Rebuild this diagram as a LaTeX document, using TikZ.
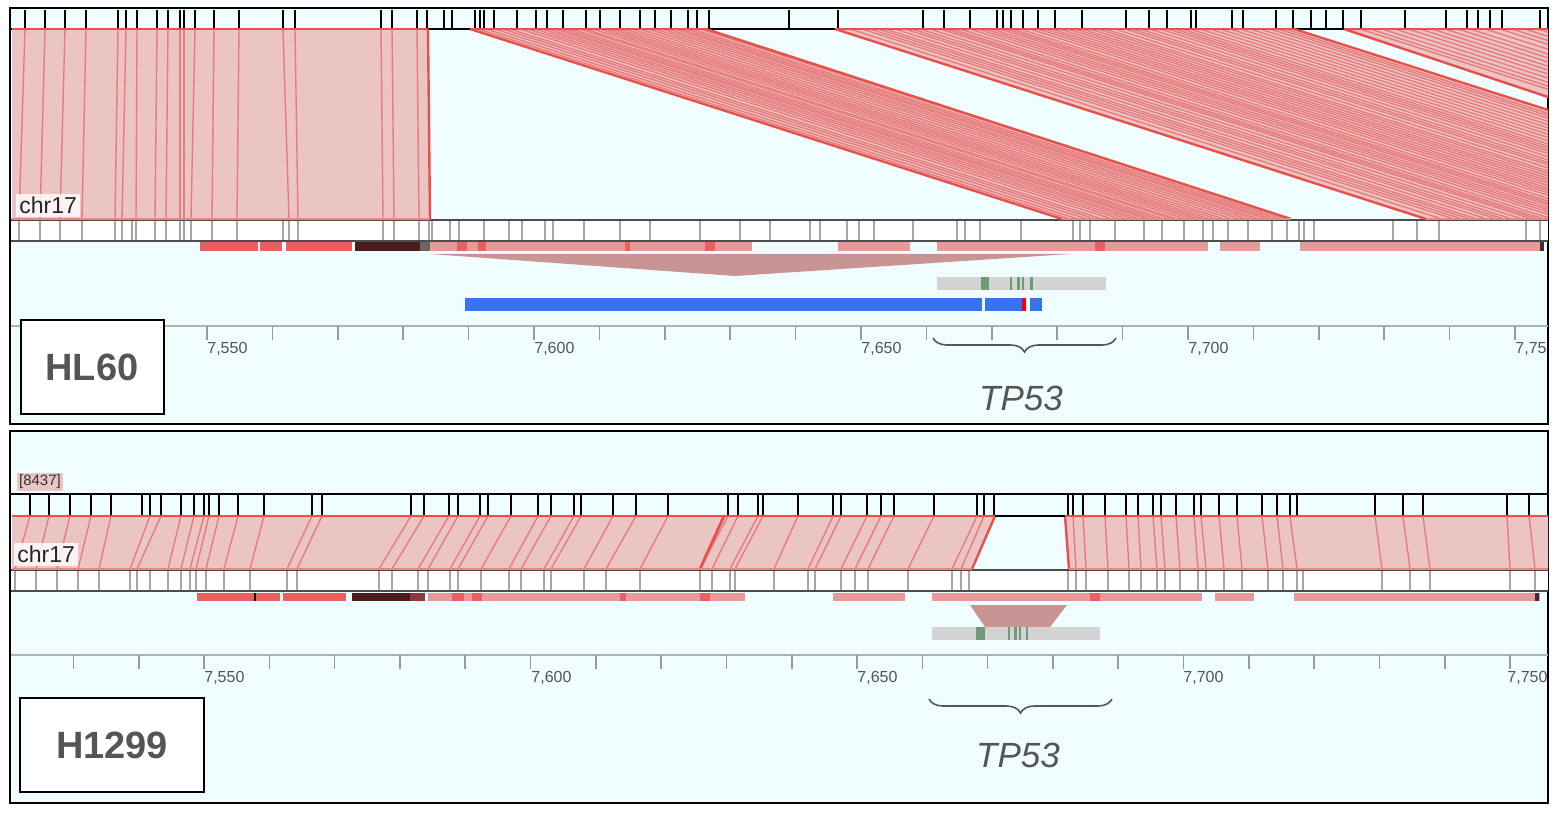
\documentclass[tikz,border=0pt]{standalone}
\usepackage{fontspec}
\setmainfont{Liberation Sans}
\usetikzlibrary{decorations.pathreplacing}
\definecolor{bgc}{HTML}{F0FDFE}
\definecolor{bandc}{HTML}{EBC4C4}
\definecolor{stripe}{HTML}{E87070}
\definecolor{redl}{HTML}{E8504A}
\definecolor{featl}{HTML}{E89A9A}
\definecolor{featd}{HTML}{E86060}
\definecolor{featk}{HTML}{4A1C1C}
\definecolor{brn}{HTML}{C99494}
\definecolor{grayb}{HTML}{D3D3D3}
\definecolor{grn}{HTML}{6E9A78}
\definecolor{blu}{HTML}{3573F0}
\definecolor{txt}{HTML}{555555}
\tikzset{
 panel/.style={draw=black,line width=1pt,fill=bgc},
 lab/.style={draw=black,line width=1pt,fill=white,minimum width=71.5pt,minimum height=47pt,font=\fontsize{19}{20}\selectfont\bfseries,text=txt},
 axl/.style={font=\fontsize{8}{9}\selectfont,text=txt,anchor=west,inner sep=0pt},
 gene/.style={font=\fontsize{17.5}{18}\selectfont\itshape,text=txt},
 brc/.style={decorate,decoration={brace,mirror,amplitude=7pt},draw=txt,line width=0.8pt},
 tk/.style={draw=black,line width=0.8pt},
 gtk/.style={draw=gray!70,line width=0.6pt},
 stl/.style={draw=stripe,line width=0.7pt,opacity=0.85},
}
\begin{document}
\begin{tikzpicture}[x=0.5pt,y=-0.5pt]
\useasboundingbox (0,0) rectangle (1564,818);
% ================= PANEL 1 =================
\node[panel,minimum width=769pt,minimum height=208pt,inner sep=0pt] (p1) at (779,216) {};
\foreach \x in {25,45,65,86,118,126,137,157,168,180,184,195,214,239,283,295,381,392,417,427,444,452,475,480,484,494,517,536,547,563,586,600,620,640,655,671,688,697,709,789,838,923,944,970,997,1003,1011,1023,1038,1055,1082,1126,1149,1167,1191,1196,1232,1243,1276,1293,1311,1326,1343,1361,1405,1446,1467,1478,1490,1502,1540}
  \draw[tk] (\x,10) -- (\x,29);
\draw[black,line width=1pt] (11,29) -- (1548,29);
\fill[white] (11,220) rectangle (1548,240);
\foreach \x in {19,40,60,82,115,122,132,136,155,166,180,184,191,212,237,283,289,298,383,394,419,429,432,450,459,484,509,522,545,553,584,620,650,700,740,770,810,820,847,859,874,913,957,965,980,1021,1073,1080,1090,1115,1144,1162,1184,1203,1213,1228,1248,1272,1287,1299,1304,1314,1393,1417,1439,1526,1540}
  \draw[gtk] (\x,220) -- (\x,240);
\draw[black!70,line width=1pt] (11,220) -- (1548,220);
\draw[black!70,line width=1pt] (11,241) -- (1548,241);
\fill[bandc] (12,29) -- (428,29) -- (430,219) -- (12,219) -- cycle;
\foreach \x/\y in {25/19,45/40,65/60,86/82,118/115,126/122,137/136,157/155,168/166,180/180,184/184,195/191,214/212,239/237,283/289,295/298,381/383,392/394,417/419}
  \draw[stl] (\x,29) -- (\y,219);
\draw[redl,line width=1.2pt] (428,29) -- (430,219);
\fill[bandc] (470,29) -- (706,29) -- (1291,219) -- (1062,219) -- cycle;
\fill[bandc] (835,29) -- (1294,29) -- (1548,110) -- (1548,219) -- (1426,219) -- cycle;
\fill[bandc] (1344,29) -- (1548,29) -- (1548,97) -- cycle;
\begin{scope}
\clip (470,29) -- (706,29) -- (1291,219) -- (1062,219) -- cycle;
\foreach \x in {478,486,495,503,510,520,528,535,542,548,555,560,566,572,580,585,593,600,606,612,618,625,632,640,648,655,662,668,675,680,686,692,700}
  \draw[stl] (\x,29) -- ++(592,190);
\end{scope}
\begin{scope}
\clip (835,29) -- (1294,29) -- (1548,110) -- (1548,219) -- (1426,219) -- cycle;
\foreach \x in {850,862,870,878,885,895,905,912,920,930,940,946,952,960,970,978,985,992,1000,1006,1012,1020,1030,1038,1045,1052,1060,1068,1075,1082,1090,1098,1105,1115,1125,1132,1140,1150,1160,1168,1175,1182,1190,1200,1210,1220,1230,1240,1250,1260,1270,1278,1285}
  \draw[stl] (\x,29) -- ++(592,190);
\end{scope}
\begin{scope}
\clip (1344,29) -- (1548,29) -- (1548,97) -- cycle;
\foreach \x in {1360,1370,1382,1395,1408,1420,1432,1445,1458,1470,1485,1500,1512,1525,1538}
  \draw[stl] (\x,29) -- ++(592,190);
\end{scope}
\draw[redl,line width=1.2pt] (470,29) -- (1062,219) (706,29) -- (1291,219);
\draw[redl,line width=1.2pt] (835,29) -- (1426,219) (1294,29) -- (1548,110);
\draw[redl,line width=1.2pt] (1344,29) -- (1548,97);
\draw[redl,line width=1.2pt] (12,29) -- (428,29) (470,29) -- (706,29) (835,29) -- (1294,29) (1344,29) -- (1548,29);
\draw[redl!70,line width=1pt] (12,219) -- (430,219) (1062,219) -- (1291,219) (1426,219) -- (1548,219);
\node[fill=white,fill opacity=0.8,text opacity=1,inner sep=1.5pt,anchor=south west,font=\fontsize{11.5}{12}\selectfont,text=black!85] (c1) at (16,217) {chr17};
\foreach \a/\b/\c in {200/258/featd,260/282/featd,286/352/featd,355/420/featk,420/430/black!60,430/752/featl,457/467/featd,478/486/featd,625/630/featd,705/715/featd,838/910/featl,937/1208/featl,1095/1105/featd,1220/1260/featl,1300/1540/featl,1540/1544/black!80}
  \fill[\c] (\a,242) rectangle (\b,251);
\fill[brn] (430,254) -- (1070,254) -- (735,276) -- cycle;
\fill[grayb] (937,277) rectangle (1106,290);
\foreach \x/\w in {981/7,987/2,1010/2,1017/3,1022/2,1030/3}
  \fill[grn] (\x,277) rectangle (\x+\w,290);
\fill[blu] (465,298) rectangle (982,311);
\fill[blu] (985,298) rectangle (1022,311);
\fill[red] (1022,298) rectangle (1026,311);
\fill[blu] (1030,298) rectangle (1042,311);
\draw[gray!60,line width=1.2pt] (11,326) -- (1548,326);
\foreach \i in {-2,...,20}
  \draw[gray!80,line width=0.8pt] (207+65.4*\i,326) -- (207+65.4*\i,340);
\node[axl] (a1) at (207,349) {7,550};
\node[axl] (a2) at (534,349) {7,600};
\node[axl] (a3) at (861,349) {7,650};
\node[axl] (a4) at (1188,349) {7,700};
\node[axl] (a5) at (1515,349) {7,75};
\node[lab] (hl60) at (92,367) {HL60};
\coordinate (b1s) at (933,338);
\coordinate (b1e) at (1116,338);
\draw[brc] (b1s) -- (b1e);
\node[gene] (g1) at (1021,398) {TP53};
% ================= PANEL 2 =================
\node[panel,minimum width=769pt,minimum height=186pt,inner sep=0pt] (p2) at (779,617) {};
\node[fill=bandc,inner sep=1pt,font=\fontsize{7.5}{8}\selectfont,text=black!80] (n8437) at (40,482) {[8437]};
\foreach \x in {30,49,70,91,111,142,150,161,181,194,204,209,219,238,264,312,322,411,424,449,458,480,488,511,538,551,574,581,613,636,668,728,738,758,763,798,833,841,867,881,894,934,977,984,994,1068,1073,1083,1105,1126,1138,1153,1161,1176,1194,1201,1219,1237,1262,1277,1290,1297,1375,1403,1423,1507,1529}
  \draw[tk] (\x,494) -- (\x,516);
\draw[black,line width=1pt] (11,494) -- (1548,494);
\fill[white] (11,570) rectangle (1548,590);
\foreach \x in {15,36,57,78,99,130,137,150,168,181,190,196,206,224,250,287,297,379,392,418,428,450,458,481,509,521,544,551,584,606,640,700,712,730,735,774,808,815,841,855,868,908,952,961,969,1068,1076,1086,1108,1129,1141,1157,1165,1180,1198,1206,1224,1242,1268,1283,1297,1303,1382,1410,1430,1510,1535}
  \draw[gtk] (\x,570) -- (\x,590);
\draw[black!70,line width=1pt] (11,570) -- (1548,570);
\draw[black!70,line width=1pt] (11,591) -- (1548,591);
\fill[bandc] (12,516) -- (995,516) -- (972,569) -- (12,569) -- cycle;
\fill[bandc] (1065,516) -- (1548,516) -- (1548,569) -- (1069,569) -- cycle;
\foreach \x/\y in {30/15,49/36,70/57,91/78,111/99,150/130,161/137,181/168,194/181,204/190,209/196,219/206,238/224,264/250,312/287,322/297,411/379,424/392,449/418,458/428,480/450,488/458,511/481,538/509,551/521,574/544,581/551,613/584,636/606,668/640,728/700,738/712,758/730,763/735,798/774,833/808,841/815,867/841,881/855,894/868,934/908,977/952,984/961}
  \draw[stl] (\x,516) -- (\y,569);
\draw[redl,line width=1.4pt] (724,516) -- (700,569);
\foreach \x/\y in {1073/1076,1083/1086,1105/1108,1126/1129,1138/1141,1153/1157,1161/1165,1176/1180,1194/1198,1201/1206,1219/1224,1237/1242,1262/1268,1277/1283,1290/1297,1375/1382,1403/1410,1423/1430,1507/1510,1529/1535}
  \draw[stl] (\x,516) -- (\y,569);
\draw[redl,line width=1.2pt] (995,516) -- (972,569) (1065,516) -- (1069,569);
\draw[redl,line width=1.2pt] (12,516) -- (995,516) (1065,516) -- (1548,516);
\draw[redl!70,line width=1pt] (12,569) -- (972,569) (1069,569) -- (1548,569);
\draw[black,line width=1.2pt] (995,516) -- (1065,516);
\node[fill=white,fill opacity=0.8,text opacity=1,inner sep=1.5pt,anchor=south west,font=\fontsize{11.5}{12}\selectfont,text=black!85] (c2) at (14,566) {chr17};
\foreach \a/\b/\c in {197/280/featd,254/256/black,283/346/featd,352/425/featk,410/425/featd!60!black,428/745/featl,452/464/featd,472/482/featd,620/626/featd,700/710/featd,833/905/featl,932/1202/featl,1090/1100/featd,1215/1254/featl,1294/1540/featl,1535/1539/black!80}
  \fill[\c] (\a,593) rectangle (\b,601);
\fill[brn] (970,605) -- (1067,605) -- (1050,627) -- (985,627) -- cycle;
\fill[grayb] (932,627) rectangle (1100,640);
\foreach \x/\w in {976/7,983/2,1008/2,1014/3,1019/2,1026/2}
  \fill[grn] (\x,627) rectangle (\x+\w,640);
\draw[gray!60,line width=1.2pt] (11,655) -- (1548,655);
\foreach \i in {-2,...,20}
  \draw[gray!80,line width=0.8pt] (204+65.3*\i,655) -- (204+65.3*\i,669);
\node[axl] (d1) at (204,678) {7,550};
\node[axl] (d2) at (531,678) {7,600};
\node[axl] (d3) at (857,678) {7,650};
\node[axl] (d4) at (1183,678) {7,700};
\node[axl] (d5) at (1507,678) {7,750};
\node[lab,minimum width=92pt] (h1299) at (112,745) {H1299};
\coordinate (b2s) at (929,699);
\coordinate (b2e) at (1112,699);
\draw[brc] (b2s) -- (b2e);
\node[gene] (g2) at (1018,755) {TP53};
\end{tikzpicture}
\end{document}
